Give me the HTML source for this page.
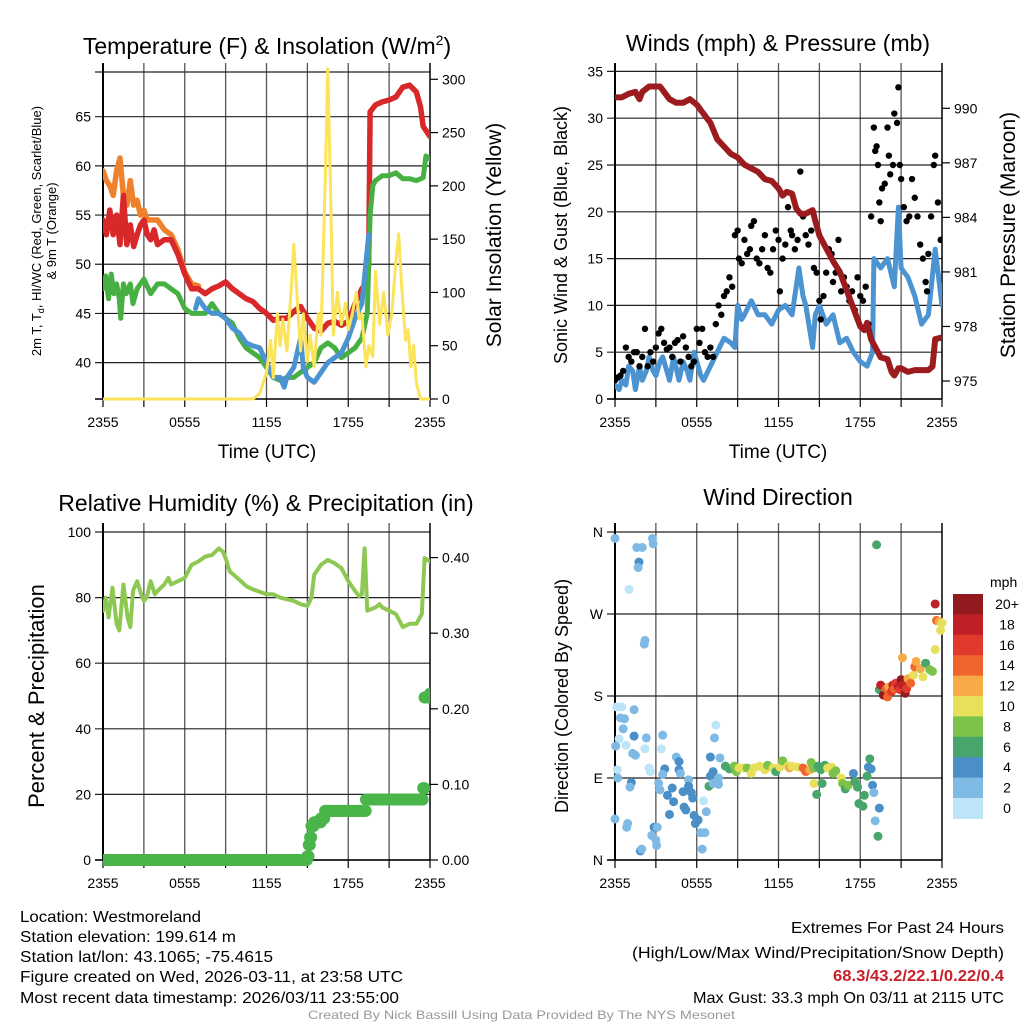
<!DOCTYPE html>
<html><head><meta charset="utf-8">
<style>
html,body{margin:0;padding:0;background:#fff;}
svg{display:block;font-family:"Liberation Sans",Arial,sans-serif;}
</style></head>
<body>
<svg id="fig" width="1024" height="1024" viewBox="0 0 1024 1024" xmlns="http://www.w3.org/2000/svg">
<defs>
<clipPath id="c1"><rect x="103" y="63" width="327" height="338"/></clipPath>
<clipPath id="c2"><rect x="615" y="63" width="327" height="338"/></clipPath>
<clipPath id="c3"><rect x="103" y="523" width="327" height="345"/></clipPath>
<clipPath id="c4"><rect x="610" y="523" width="337" height="345"/></clipPath>
</defs>
<text x="267" y="54" font-size="23" text-anchor="middle">Temperature (F) &amp; Insolation (W/m<tspan dy="-9" font-size="14">2</tspan><tspan dy="9">)</tspan></text>
<text x="778" y="51" font-size="23" text-anchor="middle">Winds (mph) &amp; Pressure (mb)</text>
<text x="266" y="511" font-size="23" text-anchor="middle">Relative Humidity (%) &amp; Precipitation (in)</text>
<text x="778" y="505" font-size="23" text-anchor="middle">Wind Direction</text>

<text transform="translate(41,231) rotate(-90)" font-size="13" text-anchor="middle">2m T, T<tspan dy="3" font-size="9">d</tspan><tspan dy="-3">, HI/WC (Red, Green, Scarlet/Blue)</tspan></text>
<text transform="translate(56,231) rotate(-90)" font-size="13" text-anchor="middle">&amp; 9m T (Orange)</text>
<text transform="translate(501,235) rotate(-90)" font-size="21" text-anchor="middle">Solar Insolation (Yellow)</text>
<text transform="translate(567,235) rotate(-90)" font-size="18" text-anchor="middle">Sonic Wind &amp; Gust (Blue, Black)</text>
<text transform="translate(1015,235) rotate(-90)" font-size="21" text-anchor="middle">Station Pressure (Maroon)</text>
<text transform="translate(44,696) rotate(-90)" font-size="22" text-anchor="middle">Percent &amp; Precipitation</text>
<text transform="translate(568,696) rotate(-90)" font-size="18" text-anchor="middle">Direction (Colored By Speed)</text>
<text x="267" y="458" font-size="19" text-anchor="middle">Time (UTC)</text>
<text x="778" y="458" font-size="19" text-anchor="middle">Time (UTC)</text>

<g font-size="16">
<text x="20" y="922" textLength="181" lengthAdjust="spacingAndGlyphs">Location: Westmoreland</text>
<text x="20" y="942" textLength="216" lengthAdjust="spacingAndGlyphs">Station elevation: 199.614 m</text>
<text x="20" y="962" textLength="253" lengthAdjust="spacingAndGlyphs">Station lat/lon: 43.1065; -75.4615</text>
<text x="20" y="982" textLength="383" lengthAdjust="spacingAndGlyphs">Figure created on Wed, 2026-03-11, at 23:58 UTC</text>
<text x="20" y="1003" textLength="379" lengthAdjust="spacingAndGlyphs">Most recent data timestamp: 2026/03/11 23:55:00</text>
</g>
<g font-size="16">
<text x="791" y="933" textLength="213" lengthAdjust="spacingAndGlyphs">Extremes For Past 24 Hours</text>
<text x="632" y="958" textLength="372" lengthAdjust="spacingAndGlyphs">(High/Low/Max Wind/Precipitation/Snow Depth)</text>
<text x="833" y="981" textLength="171" lengthAdjust="spacingAndGlyphs" fill="#c8202a" font-weight="bold">68.3/43.2/22.1/0.22/0.4</text>
<text x="693" y="1003" textLength="311" lengthAdjust="spacingAndGlyphs">Max Gust: 33.3 mph On 03/11 at 2115 UTC</text>
</g>
<text x="308" y="1019" font-size="12" fill="#999" textLength="427" lengthAdjust="spacingAndGlyphs">Created By Nick Bassill Using Data Provided By The NYS Mesonet</text>
</svg>
<script>
// ---- Panel 1 data (hours since 2355 UTC) ----
const tRedH=[0,0.25,0.5,0.75,1,1.25,1.5,1.75,2,2.25,2.5,2.75,3,3.25,3.5,3.75,4,4.5,5,5.5,6,6.5,7,7.5,8,8.5,9,9.5,10,10.5,11,11.5,12,12.5,13,13.5,14,14.5,15,15.5,16,16.5,17,17.5,18,18.5,19,19.3,19.5,19.6,20,20.5,21,21.5,22,22.5,23,23.3,23.5,24];
const tRedV=[54.5,53,55.5,53,55,52,57,52,54,51.8,53,54,54.5,53,52.5,53.5,52,52.5,52.5,51,49,47.5,47.5,47,47.5,47.8,48.2,47.5,47,46.5,46.2,45.5,45,44.3,44.5,44.5,45.2,45.7,44.5,43.5,43.2,44,44.2,43.8,44.2,46,47.5,48,50,65.5,66.2,66.5,66.7,67,68,68.2,67.5,66,64,63];
const t9mH=[0,0.25,0.5,0.75,1,1.25,1.5,1.75,2,2.25,2.5,2.75,3,3.25,3.5,4,4.5,5,5.5,6,6.5,7];
const t9mV=[59.5,58.5,58,57,59.5,60.8,57,56,58.5,56,56.5,55,55.5,54.5,54.5,54.5,53.5,53,51.5,49.2,48,47.8];
const tDewH=[0,0.2,0.4,0.6,0.8,1,1.2,1.3,1.5,1.7,2,2.2,2.5,3,3.5,4,4.5,5,5.5,6,6.5,7,7.5,8,8.5,9,9.5,10,10.5,11,11.5,12,12.5,13,13.5,14,14.5,15,15.5,16,16.5,17,17.5,18,18.5,19,19.4,19.6,19.8,20,20.5,21,21.5,22,22.5,23,23.5,23.7,24];
const tDewV=[47.5,48.8,46.5,49,47,48,46.5,44.5,48,47,48,46,47.5,48.5,47,48,48,47.5,47,45.5,45,45,45,46,45,44.5,44,42.5,41.5,41,40.5,39.5,38.5,38.2,38.5,38.5,39,39.5,40,41.5,42,41.5,40.5,41,41.5,42.5,45,55,58,58.5,59,59,59.3,58.7,58.7,58.5,58.8,61,60.7];
const tWcH=[6.8,7,7.5,8,8.5,9,9.5,10,10.5,11,11.5,12,12.5,13,13.3,13.5,14,14.5,14.7,15,15.5,16,16.5,17,17.5,18,18.5,19,19.5];
const tWcV=[45.5,46.5,45.5,45,45,44.5,43.5,43,42,41.7,41.5,40,38.5,38.5,37.5,38.5,39.5,42.5,39.5,38.5,38,39,40,40.5,41,42.5,44.5,46,53];
const solarH=[0,11,11.5,12,12.3,12.5,12.8,13,13.2,13.5,13.8,14,14.3,14.5,14.7,15,15.2,15.5,15.8,16,16.3,16.5,16.7,16.9,17.2,17.5,17.8,18,18.3,18.6,18.8,19,19.3,19.5,19.8,20,20.3,20.6,20.9,21.2,21.5,21.7,21.9,22.2,22.4,22.6,22.8,23,23.3,24];
const solarV=[0,0,5,25,55,20,80,50,75,45,100,145,85,45,80,35,60,30,80,60,200,310,200,60,100,70,90,65,80,100,75,80,30,50,40,120,70,100,60,80,130,155,110,55,65,30,50,15,0,0];
// ---- Panel 2 data ----
const windH=[0,0.3,0.5,0.8,1,1.3,1.5,1.8,2,2.3,2.5,2.8,3,3.3,3.5,3.8,4,4.3,4.7,5,5.3,5.5,5.8,6,6.3,6.5,7,7.5,8,8.5,8.8,9,9.3,9.5,10,10.5,11,11.5,12,12.5,13,13.5,13.8,14,14.5,14.7,15,15.5,16,16.5,17,17.5,18,18.5,18.9,19,19.5,20,20.5,20.8,21,21.5,22,22.5,23,23.5,24];
const windV=[1.5,1,2,1.5,3.5,3,1,3.5,2,3,4.5,3,2.5,4,4.5,3,2,4.5,2,4,3,2,5,4,2.5,2,3.5,5,6.5,6,5.5,10,8.5,9,10.5,9,9,8,9.5,10,9,14,11,10,5.5,9,10,8,9,6,6.5,5,4,3.5,5,15,14,15,12,20.5,14,13,11,8,9,16,10];
const gustH=[0,0.2,0.4,0.6,0.8,1,1.2,1.4,1.6,1.8,2,2.2,2.4,2.6,2.8,3,3.2,3.4,3.6,3.8,4,4.2,4.4,4.6,4.8,5,5.2,5.4,5.6,5.8,6,6.2,6.4,6.6,6.8,7,7.2,7.4,7.6,7.8,8,8.2,8.4,8.6,8.8,9,9.1,9.3,9.5,9.7,9.9,10,10.2,10.4,10.6,10.8,11,11.2,11.4,11.6,11.8,12,12.1,12.3,12.5,12.7,12.9,13,13.2,13.4,13.6,13.8,14,14.2,14.4,14.6,14.8,15,15.1,15.3,15.5,15.7,15.9,16,16.2,16.4,16.6,16.8,17,17.2,17.4,17.6,17.8,18,18.2,18.4,18.6,18.8,19,19.1,19.2,19.3,19.4,19.5,19.6,19.8,20,20.1,20.2,20.4,20.5,20.7,20.8,20.9,21,21.2,21.4,21.6,21.8,22,22.2,22.4,22.6,22.8,22.9,23,23.2,23.4,23.5,23.7,23.9];
const gustV=[2,2.3,2.5,3,5.5,4.5,4,5,5,3.5,4.5,7.5,3.5,5,4,5.5,7,7.5,6,5.3,5.5,4.5,6,6.3,4,6.7,5.5,4.5,3.5,4,7.5,6,7.5,5,4.5,5.5,4.5,8,10,9,11,11.5,13,12,17.5,18,15,14.5,17,15.5,16,18.5,19,15,14.5,16,17.5,14,13.5,16,18,17,11.5,15,16.5,20.5,18,17.5,16,17,24.3,19.5,17.5,16.5,18,14,13.5,10.5,8.5,11,13.5,16,15.5,12.5,13.5,17,11.5,13,12,10.5,11.5,9.5,13,11,10.5,12,8,19.5,29,26.5,27,25,21,19,22.5,23,29,26,24,25,30.5,29.5,33.3,25,23.5,20.5,19,19.5,23.5,21.5,19.5,16.5,15,12.5,11.5,15.5,19.5,25,26,21,17];
const presH=[0,0.5,1,1.5,1.8,2,2.5,3,3.3,3.5,4,4.5,5,5.5,6,6.5,7,7.5,8,8.5,9,9.5,10,10.5,11,11.5,12,12.3,12.6,13,13.3,13.6,14,14.5,14.7,15,15.5,16,16.5,17,17.5,18,18.3,18.5,18.8,19,19.5,20,20.3,20.5,20.8,21,21.5,22,22.5,23,23.3,23.5,24];
const presV=[990.6,990.6,990.8,990.9,990.5,990.9,991.2,991.2,991.2,991,990.5,990.3,990.3,990.5,990.2,989.7,989.2,988.3,987.9,987.5,987.3,986.9,986.7,986.5,986.1,986,985.6,985.2,985.4,985.3,984.5,984.2,984.2,984.4,983.8,983,982.3,981.6,981,980,979,978,977.8,978.2,977.3,977,976.3,976.2,975.5,975.3,975.7,975.7,975.5,975.6,975.6,975.6,975.8,977.3,977.4];
// ---- Panel 3 data ----
const rhH=[0,0.2,0.4,0.7,1,1.2,1.5,1.8,2,2.2,2.5,2.8,3,3.2,3.5,3.8,4,4.5,4.8,5,5.5,6,6.5,7,7.5,8,8.5,8.8,9,9.3,10,10.5,11,12,12.5,13,14,14.5,15,15.3,15.5,16,16.5,17,17.5,18,18.5,18.8,19,19.2,19.4,20,20.3,20.5,21,21.5,22,22.5,23,23.4,23.6,24];
const rhV=[76,80,74,83,72,70,84,74,71,82,85,81,79,80,85,81,82,84,86,84,85,86,90,91,92.5,93,95,94,92,88,85.5,83.5,82.5,81,81,80,79,78,77.5,80,87,90,91.5,90.5,89,85,82,80.5,81,95,76,77,78,77,76,75,71,72,72,75,92,91];
const precipH=[0,15,15.1,15.2,15.3,15.5,16,16.3,19.2,19.3,23.3,23.5,23.6,24];
const precipV=[0,0.005,0.02,0.03,0.045,0.05,0.055,0.065,0.065,0.08,0.08,0.095,0.215,0.22];
// ---- Panel 4 data ----
const dirH=[0,1.6,2.0,1.76,1.7,2.75,2.8,1.03,2.2,2.15,0.12,0.5,0.4,0.7,1.4,0.6,0.3,0.05,0.8,1.4,1.3,1.5,2.3,2.2,3.5,3.4,0.17,0.2,2.5,2.6,1.2,1.1,3.2,3.3,3.65,3.5,0,0.93,0.86,2.87,3.1,2.7,3,3.05,1.86,1.96,3.85,4.2,4,4.3,4.5,4.7,4.7,4.8,5,5.2,5.07,5.4,5.4,5.6,5.7,5.8,5.9,6.1,6.3,6.4,6.6,6.7,6.5,6.9,7,7.2,7,7.2,7.6,7.6,7.4,7.3,7.7,8.1,8.4,8.75,8.9,9.1,9.4,9.7,10,10.2,10.6,11,11.2,11.6,11.8,12.1,12.3,12.7,12.8,13,13.4,13.8,14,14.3,14.4,14.6,14.6,14.8,14.9,15.1,15.2,15.4,15.6,15.9,16,16.2,16.6,16.7,16.9,17.1,17.5,17.6,17.8,17.9,18.2,18.3,18.5,18.6,18.7,18.8,18.9,19,19.1,19.4,19.3,19.2,19.4,19.5,19.7,19.9,20,20.1,20.3,20.4,20.5,20.6,20.8,20.9,21,21.1,21.3,21.4,21.5,21.6,21.7,21.9,22,22.1,22.4,22.6,22.8,23.1,23.3,21.1,23.5,23.5,23.6,23.8,23.9,24];
const dirV=[353,343,343,327,321,353,347,297,241,237,168,168,156,155,165,144,133,125,126,136,117,115,134,122,137,122,99,90,101,97,85,80,84,77,100,94,45,40,36,36,36,27,22,16,10,12,71,79,50,64,113,108,99,95,75,55,58,88,81,74,68,49,40,44,30,12,30,53,65,81,113,97,92,84,83,90,148,134,112,103,100,103,97,101,101,101,95,101,103,99,104,101,97,102,109,103,101,103,102,101,97,99,107,101,84,72,103,99,84,104,101,102,95,98,90,84,78,82,95,86,80,62,59,71,92,102,111,100,82,74,43,57,26,346,187,192,181,188,179,190,185,192,188,194,190,187,198,192,183,188,199,199,194,203,212,218,210,201,216,209,207,222,231,281,263,262,252,260];
const dirS=[2,2,2,4,2,2,2,0,2,2,0,0,2,2,2,2,0,2,0,4,2,2,2,0,2,0,0,2,0,0,4,2,2,2,4,2,2,2,2,4,2,2,2,2,4,2,4,4,4,4,2,4,4,2,4,4,4,2,4,4,4,4,4,4,2,2,2,2,0,6,4,4,4,2,2,2,0,2,2,6,6,8,8,10,10,8,10,10,10,10,8,10,6,10,8,10,12,10,10,14,14,12,8,8,10,6,6,6,6,6,10,10,8,8,10,8,6,8,4,6,6,6,6,6,6,4,6,4,4,2,2,4,6,6,6,18,20,14,14,12,16,18,14,16,18,16,20,18,20,16,12,12,14,10,14,12,12,10,6,8,8,12,10,18,14,12,10,10];
const speedBins=["0","2","4","6","8","10","12","14","16","18","20+"];
const speedColors=["#bde5f8","#7fbae4","#4a8fc7","#48a56c","#7cc24b","#e6e05a","#f6aa48","#f0652c","#df3a2b","#bf2127","#921a1e"];
const timeTickLabels=["2355","0555","1155","1755","2355"];
const tempTicks=[40,45,50,55,60,65];
const solarTicks=[0,50,100,150,200,250,300];
const windTicks=[0,5,10,15,20,25,30,35];
const presTicks=[975,978,981,984,987,990];
const rhTicks=[0,20,40,60,80,100];
const precipTicks=[0,0.1,0.2,0.3,0.4];
const dirTicks=["N","E","S","W","N"];

const NS="http://www.w3.org/2000/svg";
const svg=document.getElementById('fig');
function mk(tag,attrs,parent){const e=document.createElementNS(NS,tag);for(const k in attrs)e.setAttribute(k,attrs[k]);(parent||svg).appendChild(e);return e;}

const xs1=h=>103+h/24*327, xs2=h=>615+h/24*327;
const yTemp=v=>116.7+(65-v)*9.836, ySolar=v=>399-v*1.0657;
const yWind=v=>399-v*9.36, yPres=p=>381-(p-975)*18.18;
const yRh=v=>860-v*3.28, yPrecip=v=>860-v*756;
const yDir=d=>860-d*0.9111;

function frame(x0,x1,yTop,yBot,ticksL,ticksR,xs,gname){
  const g=mk('g',{});
  
  
  for(let h=3;h<24;h+=3){
    const l=mk('line',{x1:xs(h),x2:xs(h),y1:yTop-9,y2:yBot,stroke:'#555','stroke-width':1.3},g);
    
    
  }
  for(let h=0;h<=24;h+=3){
    const t=mk('line',{x1:xs(h),x2:xs(h),y1:yBot,y2:yBot+8,stroke:'#000','stroke-width':1.2},g);
    
    
  }
  for(let i=0;i<5;i++){
    const t=mk('text',{x:xs(i*6),y:yBot+28,'font-size':14,'text-anchor':'middle'},g);
    t.textContent=timeTickLabels[i];
    
    
  }
  ticksL.forEach(o=>{
    const l=mk('line',{x1:x0-8,x2:x1,y1:o.y,y2:o.y,stroke:'#222','stroke-width':1.2},g);
    
    
    const t=mk('text',{x:x0-12,y:o.y+5,'font-size':14,'text-anchor':'end'},g);
    t.textContent=o.label;
    
    
  });
  ticksR.forEach(o=>{
    const l=mk('line',{x1:x1,x2:x1+8,y1:o.y,y2:o.y,stroke:'#000','stroke-width':1.2},g);
    
    
    const t=mk('text',{x:x1+12,y:o.y+5,'font-size':14},g);
    t.textContent=o.label;
    
    
  });
  const a=mk('line',{x1:x0,x2:x0,y1:yTop-9,y2:yBot,stroke:'#000','stroke-width':2},g);
  
  
  const b=mk('line',{x1:x1,x2:x1,y1:yTop-9,y2:yBot,stroke:'#000','stroke-width':1.5},g);
  
  
  const c=mk('line',{x1:x0-8,x2:x1,y1:yBot,y2:yBot,stroke:'#000','stroke-width':1.5},g);
  
  
}
function line(hs,vs,xs,ys,color,w,clip,name){
  let d='';
  for(let i=0;i<hs.length;i++)d+=(i?'L':'M')+xs(hs[i]).toFixed(1)+','+ys(vs[i]).toFixed(1);
  const p=mk('path',{d:d,fill:'none',stroke:color,'stroke-width':w,'stroke-linejoin':'round','stroke-linecap':'round','clip-path':'url(#'+clip+')'});
  
  
}

// Panel 1
frame(103,430,72,399,tempTicks.map(v=>({y:yTemp(v),label:v})).concat([{y:72,label:''}]),solarTicks.map(v=>({y:ySolar(v),label:v})),xs1,'temperature-axes');
line(t9mH,t9mV,xs1,yTemp,'#f0812c',5.5,'c1','9m-temperature-line');
line(tRedH,tRedV,xs1,yTemp,'#d8282a',5.5,'c1','2m-temperature-line');
line(tDewH,tDewV,xs1,yTemp,'#46b043',5,'c1','dewpoint-line');
line(tWcH,tWcV,xs1,yTemp,'#4b93d1',5,'c1','wind-chill-line');
line(solarH,solarV,xs1,ySolar,'#fbe35a',3,'c1','solar-insolation-line');

// Panel 2
frame(615,942,72,399,windTicks.map(v=>({y:yWind(v),label:v})),presTicks.map(v=>({y:yPres(v),label:v})),xs2,'wind-axes');
line(windH,windV,xs2,yWind,'#4b93d1',5,'c2','sonic-wind-line');
for(let i=0;i<gustH.length;i++){
  const c=mk('circle',{cx:xs2(gustH[i]),cy:yWind(gustV[i]),r:3.2,fill:'#000','clip-path':'url(#c2)'});
  
  
}
line(presH,presV,xs2,yPres,'#9b1b1e',6,'c2','pressure-line');

// Panel 3
frame(103,430,532,860,rhTicks.map(v=>({y:yRh(v),label:v})),precipTicks.map(v=>({y:yPrecip(v),label:v.toFixed(2)})),xs1,'humidity-axes');
line(rhH,rhV,xs1,yRh,'#8dc852',4,'c3','relative-humidity-line');
for(let i=0;i<precipH.length-1;i++){
  for(let h=precipH[i];h<precipH[i+1];h+=0.08){
    const c=mk('circle',{cx:xs1(h),cy:yPrecip(precipV[i]),r:6,fill:'#4ab54a','clip-path':'url(#c3)'});
    
    
  }
}
{const c=mk('circle',{cx:xs1(24),cy:yPrecip(precipV[precipV.length-1]),r:6,fill:'#4ab54a','clip-path':'url(#c3)'});

}

// Panel 4
frame(615,942,532,860,dirTicks.map((v,i)=>({y:yDir(i*90),label:v})),[],xs2,'direction-axes');
for(let i=0;i<dirH.length;i++){
  const bi=Math.min(10,Math.round(dirS[i]/2));
  const c=mk('circle',{cx:xs2(dirH[i]),cy:yDir(dirV[i]),r:4.5,fill:speedColors[bi],'clip-path':'url(#c4)'});
  
  
}
const cb=mk('g',{});


const cbTop=594,cbH=20.4;
const mph=mk('text',{x:990,y:587,'font-size':14},cb);
mph.textContent='mph';


for(let k=0;k<11;k++){
  const idx=10-k;
  const r=mk('rect',{x:953,y:cbTop+k*cbH,width:30,height:cbH+0.5,fill:speedColors[idx]},cb);
  
  
  const t=mk('text',{x:1007,y:cbTop+k*cbH+15,'font-size':14,'text-anchor':'middle'},cb);
  t.textContent=speedBins[idx];
  
  
}
</script>
</body></html>
